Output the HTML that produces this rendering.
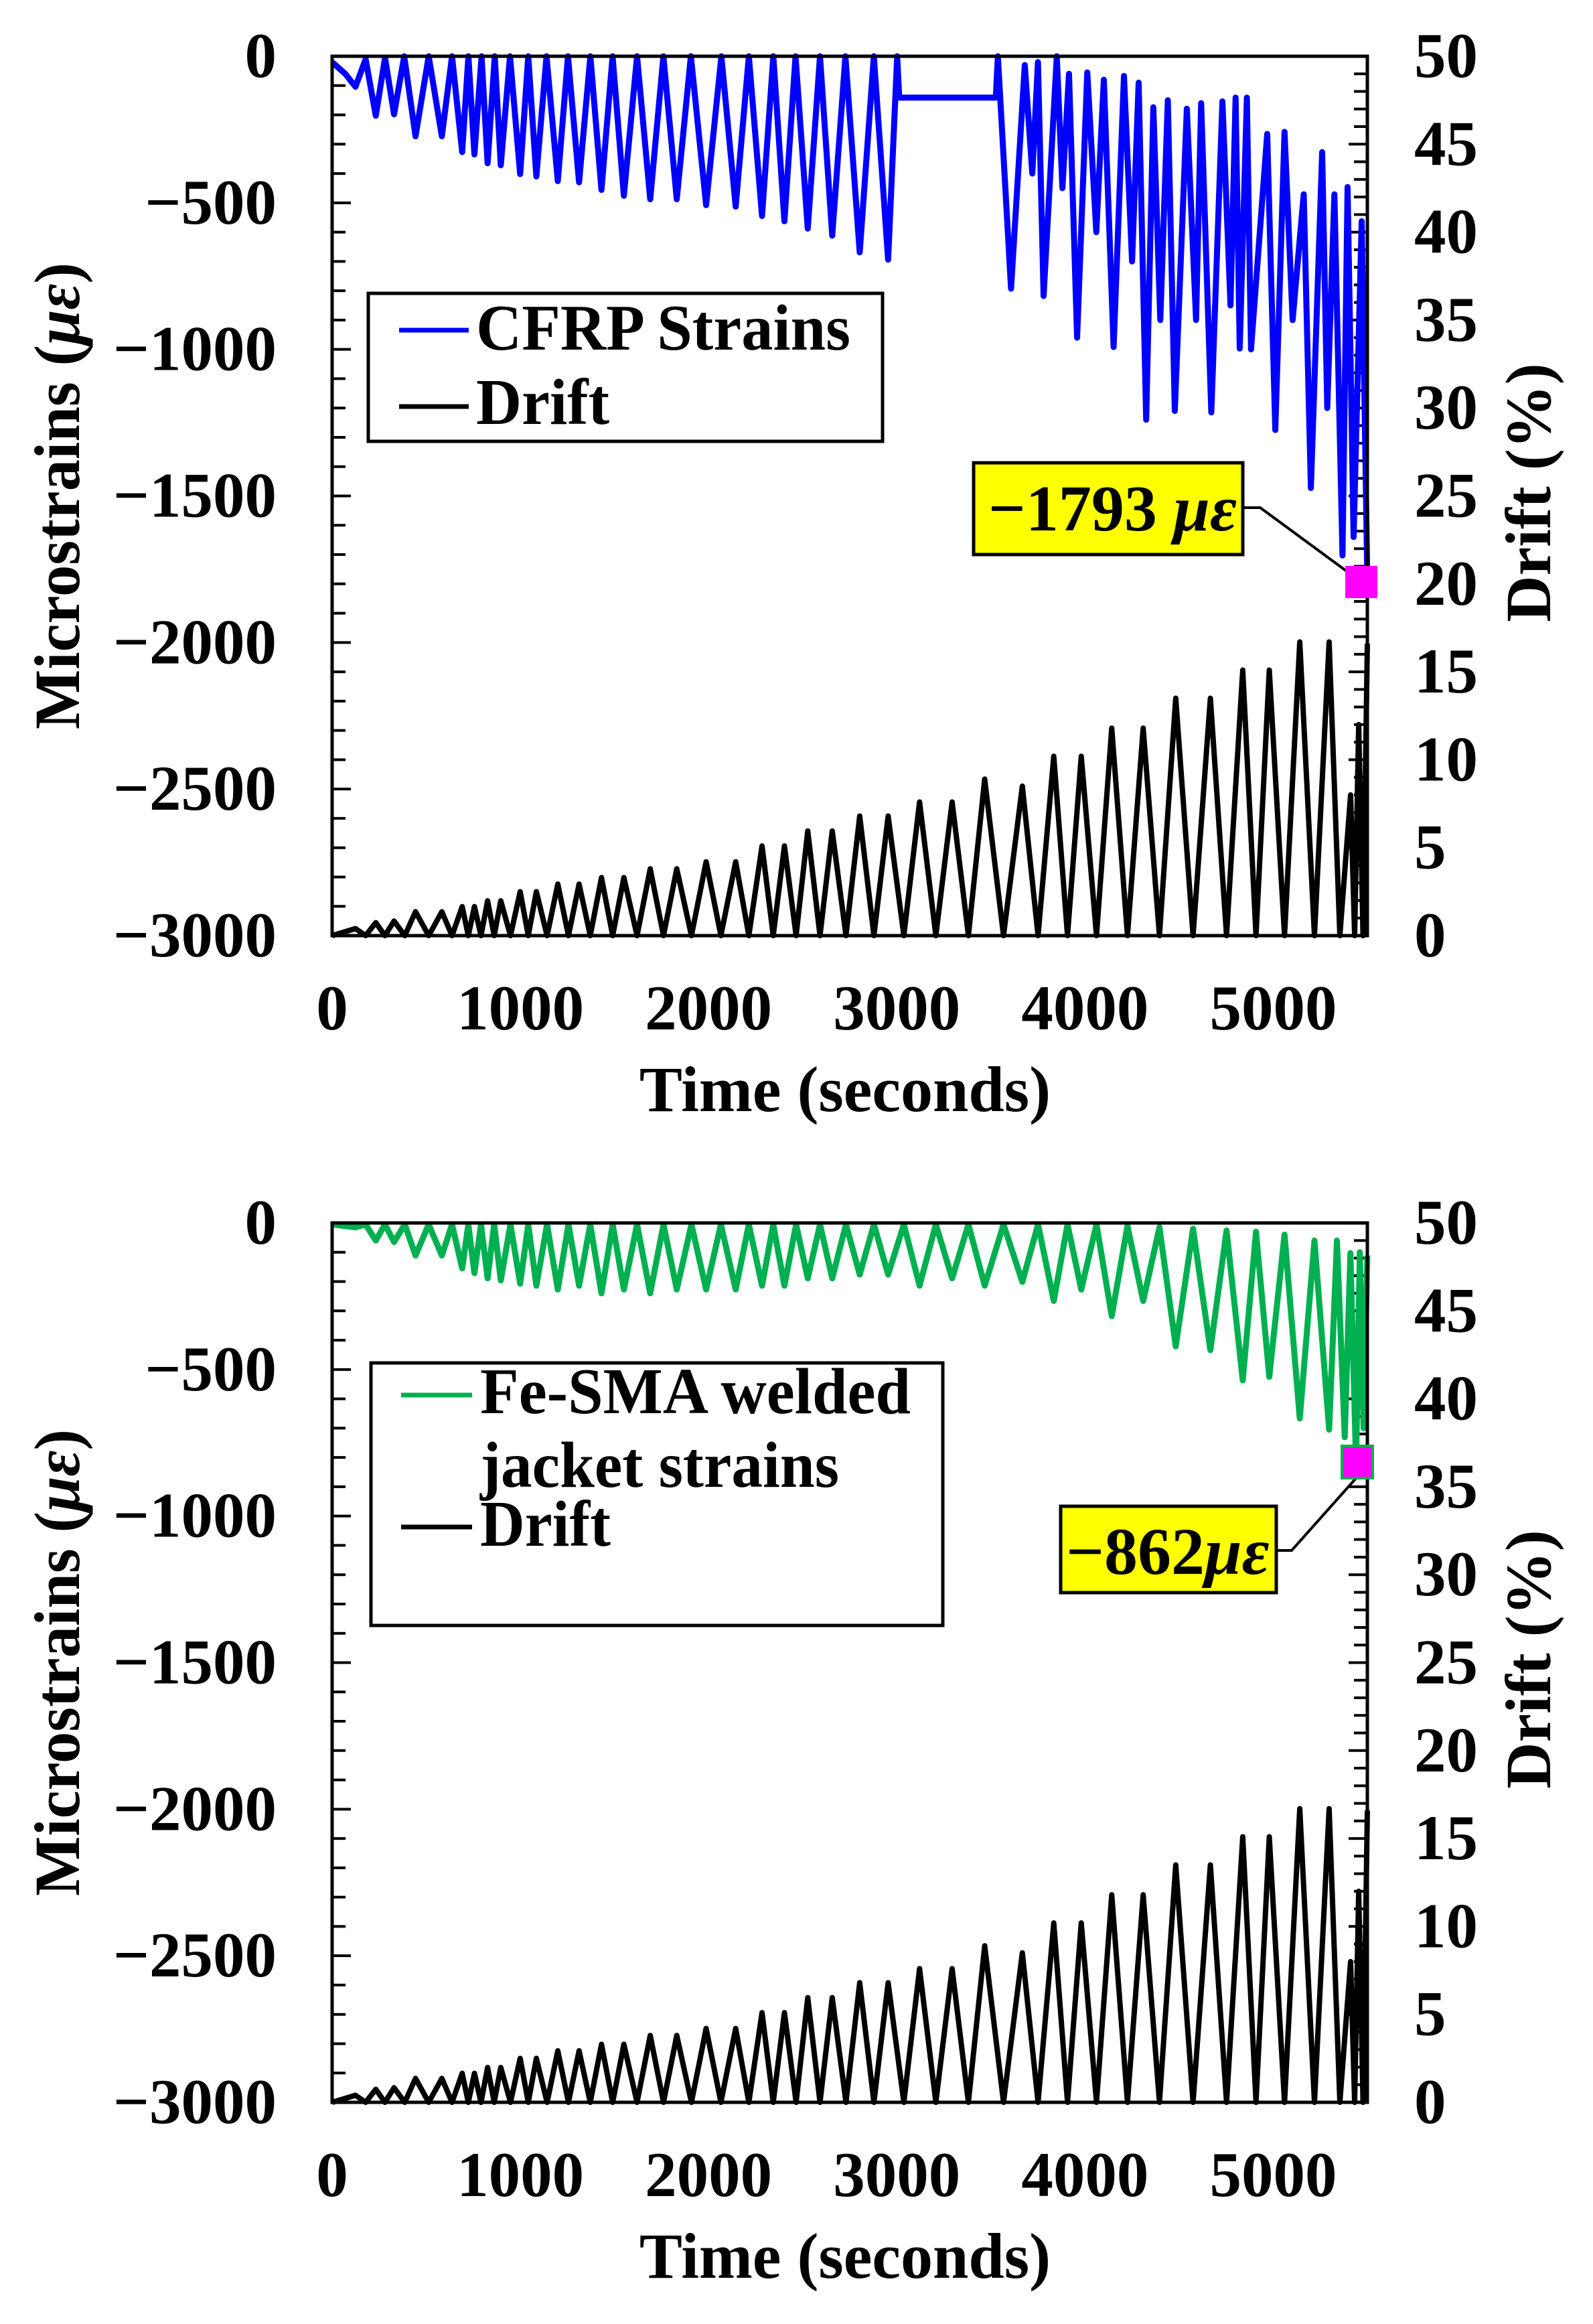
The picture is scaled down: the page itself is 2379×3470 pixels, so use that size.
<!DOCTYPE html>
<html><head><meta charset="utf-8">
<style>
html,body{margin:0;padding:0;background:#fff;}
svg{display:block;}
text{font-family:"Liberation Serif",serif;font-weight:bold;fill:#000;}
</style></head>
<body>
<svg id="fig" xmlns="http://www.w3.org/2000/svg" width="2379" height="3470" viewBox="0 0 2379 3470"></svg>
<script>
// ---------- data ----------
const xTicks = [0,1000,2000,3000,4000,5000];
const strainTicks = [0,-500,-1000,-1500,-2000,-2500,-3000];
const driftTicks = [0,5,10,15,20,25,30,35,40,45,50];

const driftPeakT = [124,232,329,443,583,691,756,826,896,999,1085,1199,1312,1431,1550,1690,1831,1987,2144,2284,2403,2527,2657,2803,2954,3121,3294,3467,3667,3834,3980,4142,4309,4482,4666,4838,4979,5141,5297,5411,5454,5500];
const driftPeakV = [0.4,0.74,0.83,1.36,1.36,1.65,1.65,1.98,1.98,2.5,2.5,2.93,2.93,3.3,3.3,3.8,3.8,4.2,4.2,5.1,5.1,5.95,5.95,6.8,6.8,7.6,7.6,8.9,8.5,10.2,10.2,11.8,11.8,13.5,13.5,15.1,15.1,16.7,16.7,8,12,16.6];

const cfrpT = [0,70,124,178,232,281,329,383,443,513,583,637,691,724,756,794,826,864,896,945,999,1042,1085,1139,1199,1253,1312,1372,1431,1490,1550,1620,1690,1760,1831,1906,1987,2068,2144,2214,2284,2344,2403,2462,2527,2592,2657,2727,2803,2878,2954,3002,3013,3526,3537,3607,3680,3720,3750,3780,3850,3880,3915,3958,4012,4060,4100,4152,4207,4250,4285,4325,4363,4400,4440,4477,4541,4590,4617,4671,4730,4773,4800,4822,4860,4882,4968,5011,5060,5103,5162,5200,5260,5287,5325,5368,5395,5427,5470,5500];
const cfrpV = [-20,-60,-104,-10,-203,-5,-198,0,-273,0,-273,0,-327,0,-335,0,-365,0,-372,0,-402,0,-410,0,-426,0,-430,0,-456,0,-476,0,-488,0,-488,0,-508,0,-513,0,-545,0,-563,0,-588,0,-612,0,-669,0,-694,0,-141,-141,0,-793,-30,-400,-20,-818,0,-450,-60,-960,-55,-600,-80,-992,-67,-700,-90,-1240,-174,-900,-150,-1210,-179,-900,-160,-1215,-154,-850,-141,-997,-141,-1000,-265,-1275,-258,-900,-471,-1473,-327,-1200,-471,-1703,-446,-1640,-563,-1793,-513];

const smaTroughT = [124,232,329,443,583,691,756,826,896,999,1085,1199,1312,1431,1550,1690,1831,1987,2144,2284,2403,2527,2657,2803,2954,3121,3294,3467,3667,3834,3980,4142,4309,4482,4666,4838,4979,5141,5297,5380,5440,5480];
const smaTroughV = [-15,-60,-65,-111,-111,-155,-171,-189,-196,-207,-214,-227,-214,-240,-227,-240,-227,-227,-227,-214,-214,-189,-189,-176,-176,-214,-189,-214,-201,-266,-227,-318,-266,-421,-434,-537,-525,-667,-705,-731,-822,-700];
const smaTopV = [-5,-5,-5,-5,-5,-5,-5,-5,-5,-5,-5,-5,-5,-5,-5,-5,-5,-5,-5,-5,-5,-5,-5,-5,-5,-5,-5,-5,-5,-5,-5,-10,-15,-20,-26,-30,-40,-60,-60,-103,-100,-111];

// ---------- helpers ----------
const NS = "http://www.w3.org/2000/svg";
const svg = document.getElementById('fig');
function mk(tag, attrs, parent){
  const e = document.createElementNS(NS, tag);
  for (const k in attrs) e.setAttribute(k, attrs[k]);
  (parent||svg).appendChild(e);
  return e;
}
const X0=496, X1=2042, TMAX=5500;

function drawPanel(T, B, opts){
  const g = mk('g',{});
  
  
  const sx = t => X0 + (t/TMAX)*(X1-X0);
  const sy = v => T + (-v/3000)*(B-T);
  const dy = d => B - (d/50)*(B-T);

  for (let v=0; v>=-3000; v-=100){
    const y = sy(v);
    const len = (v%500===0)?28:20;
    const tk = mk('line',{x1:X0,x2:X0+len,y1:y,y2:y,stroke:'#000','stroke-width':4},g);
    
    
  }
  for (let d=0; d<=50; d+=1){
    const y = dy(d);
    const len = (d%5===0)?28:20;
    const tk = mk('line',{x1:X1,x2:X1-len,y1:y,y2:y,stroke:'#000','stroke-width':4},g);
    
    
  }

  let pts = [[sx(0),dy(0)]];
  for (let i=0;i<driftPeakT.length;i++){
    pts.push([sx(driftPeakT[i]), dy(driftPeakV[i])]);
    if (i<driftPeakT.length-1){
      pts.push([sx((driftPeakT[i]+driftPeakT[i+1])/2), dy(0)]);
    }
  }
  const drift = mk('polyline',{points:pts.map(p=>p.join(',')).join(' '),fill:'none',stroke:'#000','stroke-width':8,'stroke-linejoin':'round'},g);
  
  

  let sp = [];
  if (opts.kind==='cfrp'){
    for (let i=0;i<cfrpT.length;i++) sp.push([sx(cfrpT[i]), sy(cfrpV[i])]);
  } else {
    sp.push([sx(0), sy(-5)]);
    for (let i=0;i<smaTroughT.length;i++){
      sp.push([sx(smaTroughT[i]), sy(smaTroughV[i])]);
      const tn = i<smaTroughT.length-1 ? (smaTroughT[i]+smaTroughT[i+1])/2 : TMAX;
      sp.push([sx(tn), sy(smaTopV[i])]);
    }
  }
  const strain = mk('polyline',{points:sp.map(p=>p.join(',')).join(' '),fill:'none',stroke:opts.color,'stroke-width':9,'stroke-linejoin':'round'},g);
  
  

  const fr = mk('rect',{x:X0,y:T,width:X1-X0,height:B-T,fill:'none',stroke:'#000','stroke-width':5},g);
  
  

  strainTicks.forEach(v=>{
    const t = mk('text',{x:413,y:sy(v)+31,'text-anchor':'end','font-size':95},g);
    t.textContent = v===0 ? '0' : '\u2212'+Math.abs(v);
    
    
  });
  driftTicks.forEach(d=>{
    const t = mk('text',{x:2112,y:dy(d)+31,'text-anchor':'start','font-size':95},g);
    t.textContent = String(d);
    
    
  });
  xTicks.forEach(v=>{
    const t = mk('text',{x:sx(v),y:B+140,'text-anchor':'middle','font-size':95},g);
    t.textContent = String(v);
    
    
  });

  const xt = mk('text',{x:1262,y:B+262,'text-anchor':'middle','font-size':96},g);
  xt.textContent = 'Time (seconds)';
  
  
  const cy = (T+B)/2;
  const yt = mk('text',{x:0,y:0,'text-anchor':'middle','font-size':96,transform:`translate(118,${cy}) rotate(-90)`,textLength:697,lengthAdjust:'spacingAndGlyphs'},g);
  yt.innerHTML = 'Microstrains (<tspan font-style="italic">\u03bc\u03b5</tspan>)';
  
  
  const rt = mk('text',{x:0,y:0,'text-anchor':'middle','font-size':96,transform:`translate(2315,${(T+B)/2-5}) rotate(-90)`},g);
  rt.textContent = 'Drift (%)';
  
  
  return g;
}

const g1 = drawPanel(84,1397,{name:'cfrp-chart',kind:'cfrp',color:'#0000ff'});
const lg1 = mk('g',{},g1);


mk('rect',{x:550,y:438,width:768,height:221,fill:'#fff',stroke:'#000','stroke-width':5},lg1);
mk('line',{x1:596,x2:700,y1:493,y2:493,stroke:'#0000ff','stroke-width':7},lg1);
let t = mk('text',{x:711,y:522,'font-size':98,textLength:559,lengthAdjust:'spacingAndGlyphs'},lg1);
t.textContent='CFRP Strains';


mk('line',{x1:596,x2:700,y1:607,y2:607,stroke:'#000','stroke-width':7},lg1);
t = mk('text',{x:711,y:633,'font-size':98,textLength:199,lengthAdjust:'spacingAndGlyphs'},lg1);
t.textContent='Drift';



const an1 = mk('g',{},g1);


mk('polyline',{points:'1856,758 1882,758 2033,869',fill:'none',stroke:'#000','stroke-width':4},an1);
mk('rect',{x:1454,y:691,width:402,height:137,fill:'#ffff00',stroke:'#000','stroke-width':5},an1);
t = mk('text',{x:1476,y:792,'font-size':98},an1);
t.innerHTML='\u22121793 <tspan font-style="italic">\u03bc\u03b5</tspan>';


mk('rect',{x:2009,y:845,width:48,height:48,fill:'#ff00ff'},an1);

const g2 = drawPanel(1826,3139,{name:'fe-sma-chart',kind:'sma',color:'#00b050'});
const lg2 = mk('g',{},g2);


mk('rect',{x:554,y:2035,width:854,height:392,fill:'#fff',stroke:'#000','stroke-width':5},lg2);
mk('line',{x1:599,x2:705,y1:2083,y2:2083,stroke:'#00b050','stroke-width':7},lg2);
t = mk('text',{x:717,y:2110,'font-size':98,textLength:643,lengthAdjust:'spacingAndGlyphs'},lg2);
t.textContent='Fe-SMA welded';


t = mk('text',{x:717,y:2220,'font-size':98,textLength:536,lengthAdjust:'spacingAndGlyphs'},lg2);
t.textContent='jacket strains';


mk('line',{x1:599,x2:705,y1:2280,y2:2280,stroke:'#000','stroke-width':7},lg2);
t = mk('text',{x:717,y:2308,'font-size':98,textLength:195,lengthAdjust:'spacingAndGlyphs'},lg2);
t.textContent='Drift';



const an2 = mk('g',{},g2);


mk('polyline',{points:'1906,2315 1929,2315 2027,2205',fill:'none',stroke:'#000','stroke-width':4},an2);
mk('rect',{x:1584,y:2249,width:322,height:129,fill:'#ffff00',stroke:'#000','stroke-width':5},an2);
t = mk('text',{x:1592,y:2350,'font-size':100},an2);
t.innerHTML='\u2212862<tspan font-style="italic">\u03bc\u03b5</tspan>';


mk('rect',{x:2004,y:2159,width:46,height:48,fill:'#ff00ff',stroke:'#00b050','stroke-width':4},an2);
</script>
</body></html>
